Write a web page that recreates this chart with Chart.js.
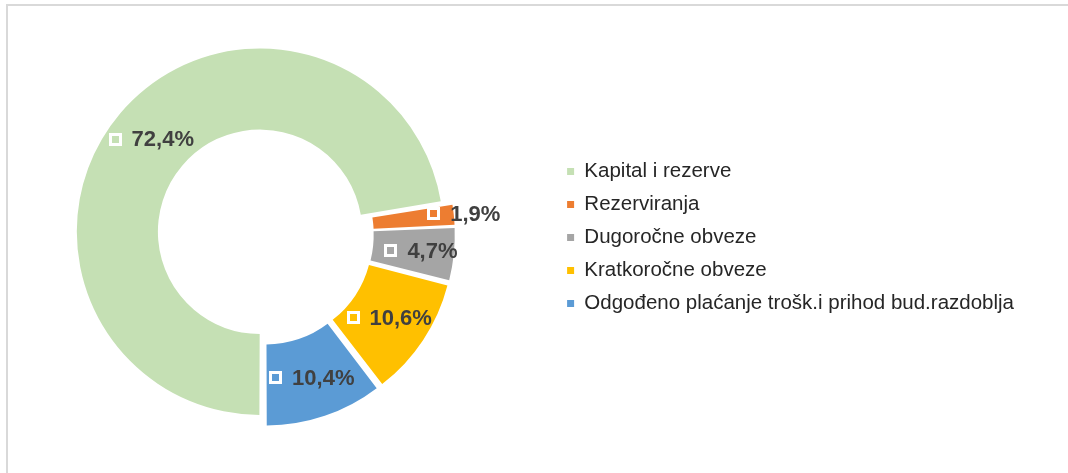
<!DOCTYPE html>
<html><head><meta charset="utf-8">
<script src="https://cdn.jsdelivr.net/npm/chart.js@4.4.0/dist/chart.umd.min.js"></script>
<style>
html,body{margin:0;padding:0;background:#fff;overflow:hidden;width:1068px;height:473px}
#frame{position:absolute;left:6px;top:4px;width:1200px;height:600px;border-top:2px solid #d9d9d9;border-left:2px solid #d9d9d9}
canvas{position:absolute;left:-28px;top:0}
</style></head><body>
<div id="frame"></div>
<canvas id="c" width="1100" height="473"></canvas>
<script>
const categories = ['Kapital i rezerve','Rezerviranja','Dugoročne obveze','Kratkoročne obveze','Odgođeno plaćanje trošk.i prihod bud.razdoblja'];
const shares = [72.4, 1.9, 4.7, 10.6, 10.4];
const colors = ['#C5E0B4','#ED7D31','#A5A5A5','#FFC000','#5B9BD5'];
// styling: explosion distance (px) per slice and optional label radius override (px)
const explodePx = [8.5, 12.5, 12.5, 12.5, 12.5];
const labelRadiusPx = [null, 189, 146, null, null];

const total = shares.reduce((a,b)=>a+b,0);
const offsets = shares.map((v,i)=>{
  const circ = v/total*2*Math.PI;
  const fix = 1 - Math.sin(Math.min(Math.PI, circ));
  return 4*explodePx[i]/(1+fix);
});
const fmt = v => v.toFixed(1).replace('.', ',') + '%';

const labelPlugin = {
  id: 'sliceLabels',
  afterDatasetsDraw(chart){
    const ctx = chart.ctx;
    const meta = chart.getDatasetMeta(0);
    ctx.save();
    ctx.font = 'bold 22px "Liberation Sans", Arial, sans-serif';
    ctx.textBaseline = 'middle';
    ctx.textAlign = 'left';
    meta.data.forEach((arc,i)=>{
      const p = arc.getProps(['x','y','startAngle','endAngle','innerRadius','outerRadius'], true);
      const mid = (p.startAngle + p.endAngle)/2;
      const rr = (labelRadiusPx[i] != null ? labelRadiusPx[i] : (p.innerRadius + p.outerRadius)/2) + explodePx[i];
      const cx = p.x + Math.cos(mid)*rr, cy = p.y + Math.sin(mid)*rr;
      const text = fmt(shares[i]);
      const tw = ctx.measureText(text).width;
      const m = 13, ring = 3, gap = 10;
      const left = cx - (m + gap + tw)/2;
      ctx.fillStyle = '#ffffff';
      ctx.fillRect(Math.round(left), Math.round(cy - m/2), m, m);
      ctx.fillStyle = colors[i];
      ctx.fillRect(Math.round(left)+ring, Math.round(cy - m/2)+ring, m-2*ring, m-2*ring);
      ctx.fillStyle = '#404040';
      ctx.fillText(text, left + m + gap, cy + 1);
    });
    ctx.restore();
  }
};

new Chart(document.getElementById('c'), {
  type: 'doughnut',
  data: {
    labels: categories,
    datasets: [{
      data: shares,
      backgroundColor: colors,
      borderWidth: 0,
      offset: offsets,
      hoverOffset: 0
    }]
  },
  options: {
    responsive: false,
    animation: false,
    rotation: 180,
    radius: 179,
    cutout: '54.7%',
    layout: { padding: { left: 0, right: 48, top: 0, bottom: 4 } },
    plugins: {
      legend: {
        position: 'right',
        align: 'center',
        title: { display: true, text: ' ', padding: 0, font: { size: 5 } },
        labels: {
          boxWidth: 7,
          boxHeight: 7,
          padding: 12.5,
          color: '#262626',
          font: { size: 20.5, family: '"Liberation Sans", Arial, sans-serif' }
        }
      },
      tooltip: { enabled: false }
    }
  },
  plugins: [labelPlugin]
});
</script>
</body></html>
